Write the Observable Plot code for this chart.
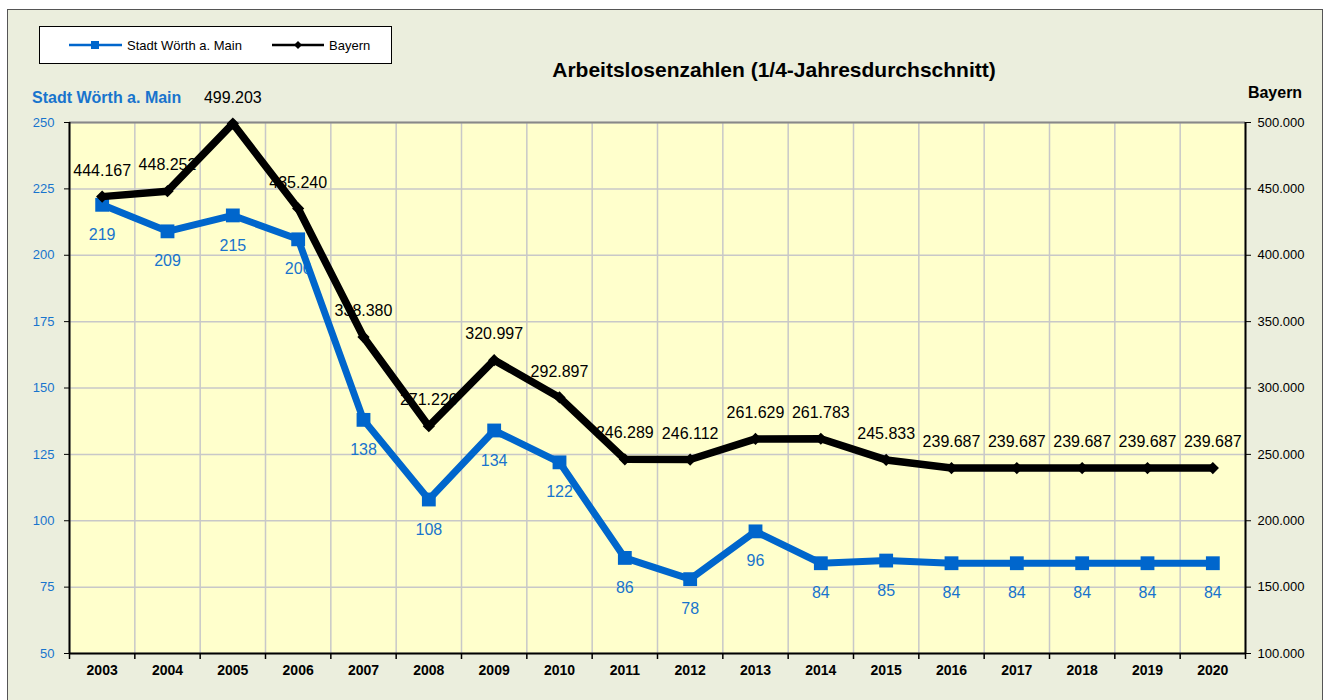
<!DOCTYPE html>
<html><head><meta charset="utf-8">
<script src="https://cdn.jsdelivr.net/npm/d3@7"></script>
<script src="https://cdn.jsdelivr.net/npm/@observablehq/plot@0.6"></script>
<style>
body{margin:0;background:#fff;font-family:"Liberation Sans",Arial,sans-serif;}
#wrap{position:relative;width:1327px;height:700px;overflow:hidden;}
#frame{position:absolute;left:7px;top:9px;width:1314px;height:700px;background:#EBEEDD;border:1px solid #555;}
.abs{position:absolute;white-space:nowrap;}
#chart{position:absolute;left:0;top:0;}
#overlay{position:absolute;left:0;top:0;pointer-events:none;}
</style></head><body>
<div id="wrap">
<div id="frame"></div>
<div id="chart"></div>
<svg id="overlay" width="1327" height="700" font-family="Liberation Sans, Arial, sans-serif">
<rect x="39.5" y="26.5" width="352" height="37" fill="#fff" stroke="#000" stroke-width="1"/>
<line x1="69" x2="122" y1="45" y2="45" stroke="#0066CC" stroke-width="2.5"/>
<rect x="91" y="41" width="8" height="8" fill="#0066CC"/>
<text x="127" y="49.5" font-size="13" fill="#000">Stadt Wörth a. Main</text>
<line x1="272" x2="324" y1="45" y2="45" stroke="#000" stroke-width="2.5"/>
<path d="M298,41 L302,45 L298,49 L294,45 Z" fill="#000"/>
<text x="329" y="49.5" font-size="13" fill="#000">Bayern</text>
<text x="774" y="77" text-anchor="middle" font-size="21" font-weight="bold" fill="#000">Arbeitslosenzahlen (1/4-Jahresdurchschnitt)</text>
<text x="32" y="103" font-size="16" font-weight="bold" fill="#1874CD">Stadt Wörth a. Main</text>
<text x="1275" y="97.5" text-anchor="middle" font-size="16" font-weight="bold" fill="#000">Bayern</text>
</svg>
</div>
<script>
const years = [2003,2004,2005,2006,2007,2008,2009,2010,2011,2012,2013,2014,2015,2016,2017,2018,2019,2020];
const woerth = [219,209,215,206,138,108,134,122,86,78,96,84,85,84,84,84,84,84];
const bayern = [444167,448252,499203,435240,338380,271220,320997,292897,246289,246112,261629,261783,245833,239687,239687,239687,239687,239687];
const leftTicks = [50,75,100,125,150,175,200,225,250];
const rightTicks = [100000,150000,200000,250000,300000,350000,400000,450000,500000];
const seriesNames = ["Stadt Wörth a. Main","Bayern"];

const de = d3.formatLocale({decimal:",",thousands:".",grouping:[3],currency:["","€"]});
const fmt = de.format(",d");
// map Bayern (right axis) onto left axis units
const r0 = rightTicks[0], r1 = rightTicks[rightTicks.length-1];
const l0 = leftTicks[0], l1 = leftTicks[leftTicks.length-1];
const toLeft = v => l0 + (v - r0) * (l1 - l0) / (r1 - r0);
const fromLeft = v => r0 + (v - l0) * (r1 - r0) / (l1 - l0);

const data = years.map((y,i)=>({year:y, w:woerth[i], b:bayern[i], bl:toLeft(bayern[i])}));
const bounds = years.map(y=>y-0.5).concat([years[years.length-1]+0.5]);

const blue = "#0066CC", blueText = "#1874CD";

const plot = Plot.plot({
  width:1327, height:700,
  marginLeft:69, marginRight:82, marginTop:122, marginBottom:47,
  style:{background:"transparent", fontFamily:"Liberation Sans, Arial, sans-serif"},
  x:{domain:[bounds[0], bounds[bounds.length-1]]},
  y:{domain:[l0,l1]},
  marks:[
    Plot.frame({fill:"#FFFFCC", stroke:null}),
    Plot.gridY(leftTicks, {stroke:"#c8c8c8", strokeOpacity:1, strokeWidth:1.5}),
    Plot.gridX(bounds, {stroke:"#c8c8c8", strokeOpacity:1, strokeWidth:1.5}),
    Plot.ruleY([l1], {stroke:"#888", strokeWidth:2}),
    Plot.axisY({anchor:"left", ticks:leftTicks, tickSize:5, tickPadding:10, fill:blueText, stroke:"#000", fontSize:13, label:null}),
    Plot.axisY({anchor:"right", ticks:leftTicks, tickSize:5, tickPadding:7, tickFormat:d=>fmt(fromLeft(d)), fill:"#000", stroke:"#000", fontSize:13, label:null}),
    Plot.axisX({ticks:years, tickSize:0, tickPadding:12, tickFormat:d=>String(d), fontWeight:"bold", fontSize:14, fill:"#000", label:null}),
    Plot.axisX({ticks:bounds, tickSize:6, tickFormat:()=>"", stroke:"#000", strokeWidth:1.5, label:null}),
    Plot.ruleX([bounds[0], bounds[bounds.length-1]], {stroke:"#000", strokeWidth:2}),
    Plot.ruleY([l0], {stroke:"#000", strokeWidth:2}),
    Plot.text(data, {x:"year", y:"w", text:d=>String(d.w), dy:30, fill:blueText, fontSize:16}),
    Plot.text(data, {x:"year", y:"bl", text:d=>fmt(d.b), dy:-26, fill:"#000", fontSize:16}),
    Plot.line(data, {x:"year", y:"w", stroke:blue, strokeWidth:7}),
    Plot.dot(data, {x:"year", y:"w", symbol:"square", r:7.8, fill:blue, stroke:null}),
    Plot.line(data, {x:"year", y:"bl", stroke:"#000", strokeWidth:7.5}),
    Plot.dot(data, {x:"year", y:"bl", symbol:"diamond2", r:5.5, fill:"#000", stroke:null})
  ]
});
document.getElementById("chart").appendChild(plot);
</script>
</body></html>
